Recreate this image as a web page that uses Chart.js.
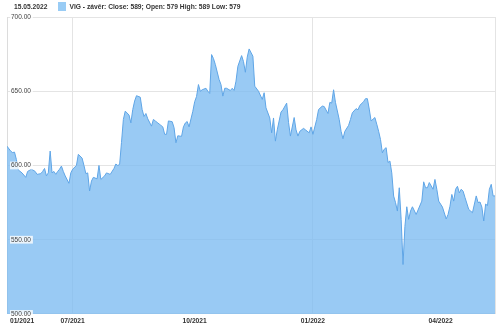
<!DOCTYPE html>
<html>
<head>
<meta charset="utf-8">
<script src="https://cdn.jsdelivr.net/npm/chart.js@4.4.1/dist/chart.umd.min.js"></script>
<style>
    html, body { margin: 0; padding: 0; background: #fff; }
    #wrap { position: relative; width: 500px; height: 329px; }
    #head {
        position: absolute; left: 14px; top: 2px;
        font: bold 6.7px "Liberation Sans", Arial, sans-serif; color: #333;
        display: flex; align-items: center; white-space: nowrap;
    }
    #head .box { width: 8px; height: 9px; background: #99ccf5; margin: 0 3px 0 11px; }
</style>
</head>
<body>
<div id="wrap">
    <canvas id="priceChart" width="500" height="329"></canvas>
    <div id="head"><span>15.05.2022</span><span class="box"></span><span>VIG - závěr: Close: 589; Open: 579 High: 589 Low: 579</span></div>
</div>
<script>
// trading day index since start of the window, and closing price
const days = [0, 2, 3, 4, 5, 6, 8, 10, 11, 13, 15, 16, 18, 19, 20, 21, 22, 23, 24, 25, 26, 27, 28, 29, 30, 31, 33, 34,
    35, 37, 38, 40, 41, 42, 43, 44, 45, 46, 48, 49, 50, 52, 53, 55, 57, 58, 59, 60, 61, 62, 63, 65, 66, 67, 68, 69,
    71, 72, 73, 74, 75, 77, 78, 79, 80, 82, 83, 84, 85, 86, 88, 89, 90, 91, 93, 94, 95, 96, 97, 99, 100, 101, 102,
    103, 104, 106, 107, 108, 109, 110, 111, 113, 114, 115, 116, 117, 119, 120, 121, 122, 123, 125, 126, 127, 128,
    129, 131, 132, 134, 136, 137, 138, 140, 141, 142, 143, 144, 146, 147, 149, 150, 151, 153, 154, 155, 156, 158,
    159, 161, 162, 163, 165, 166, 168, 169, 171, 172, 173, 174, 175, 177, 178, 179, 180, 182, 183, 184, 186, 187,
    188, 190, 191, 192, 193, 194, 196, 197, 198, 199, 200, 201, 202, 203, 204, 205, 206, 207, 208, 209, 210, 211,
    212, 213, 214, 215, 216, 218, 219, 221, 222, 223, 224, 225, 227, 228, 229, 230, 231, 232, 234, 235, 236, 237,
    238, 239, 240, 241, 242, 243, 244, 246, 247, 248, 250, 251, 252, 253, 254, 255, 256, 257, 258, 259, 260];
const closes = [613, 609.6, 608.7, 609, 604, 597, 595, 592, 596, 597.5, 596, 594, 594.5, 596, 598, 593, 595, 609.7, 595,
    596, 594, 596, 597.5, 599.6, 596, 593, 588, 595,
    597.5, 600, 607.5, 605, 600, 594.5, 595, 582.8, 589.5, 592, 591, 600, 590.6, 593, 595, 594, 598, 601, 600, 600.7,
    615.5, 631, 636.6, 634, 628.7, 637.7, 643.4, 647,
    646, 637.7, 633, 635, 631.4, 626.5, 631, 630, 629, 627, 626, 621, 621, 630, 629.5, 625.5, 615.3, 620, 619.6, 626,
    628.6, 629.6, 626, 636.5, 643, 646.5, 654.5,
    650, 651, 652, 650, 648.5, 674.7, 672, 668, 657.9, 654.5, 646.7, 652, 652, 650.5, 652, 650.5, 656.8, 666.8, 674,
    670, 662.8, 673,
    678.5, 673.6, 653.4, 650, 644.5, 649, 638.8, 632, 622, 632, 616.4, 624, 636, 637.5, 642, 629, 619.8, 632.3, 624,
    619.8, 623, 625,
    624, 622, 626, 621, 631, 637.7, 640, 639.7, 635, 642.5, 642, 651, 642.5, 631, 623, 618, 623, 627, 631, 635.5,
    638.3, 637.5,
    640.5, 643, 645, 645, 638, 630, 632.3, 627.8, 623, 617.5, 608.5, 611, 612, 602, 603, 595, 579.4, 575, 569.3, 585,
    563.7, 533.3, 559,
    572.2, 563.7, 569.3, 572.2, 567, 570, 576, 589, 585, 585, 588.5, 584, 590.6, 584, 576, 574, 572, 564, 567, 572.5,
    580.5, 576,
    584, 586, 581.5, 584, 582.7, 578.5, 570.4, 569.3, 568.2, 579.5, 575, 575.4, 572, 562.6, 574, 573, 584, 587.3,
    579.5, 579.5, 588.8];

const tickDays = [8, 35, 100, 163, 231, 260];
const tickLabels = ['01/2021', '07/2021', '10/2021', '01/2022', '04/2022', ''];
const gridDays = [35, 163, 260];

const points = days.map((d, i) => ({ x: d, y: closes[i] }));

const ctx = document.getElementById('priceChart').getContext('2d');
const priceChart = new Chart(ctx, {
    type: 'line',
    data: {
        datasets: [{
            label: 'VIG',
            data: points,
            borderColor: 'rgba(95, 165, 230, 1)',
            backgroundColor: 'rgba(120, 185, 240, 0.755)',
            borderWidth: 1,
            pointRadius: 0,
            fill: 'start',
            tension: 0
        }]
    },
    options: {
        responsive: false,
        animation: false,
        layout: { padding: { left: -1, right: 5, top: 17, bottom: 1 } },
        plugins: {
            legend: { display: false },
            tooltip: { enabled: false }
        },
        scales: {
            x: {
                type: 'linear',
                min: 0,
                max: 260,
                afterBuildTicks: function(axis) {
                    axis.ticks = tickDays.map(v => ({ value: v }));
                },
                ticks: {
                    autoSkip: false,
                    maxRotation: 0,
                    padding: 3,
                    color: '#333',
                    font: { family: 'Liberation Sans', size: 6.7, weight: 'bold' },
                    callback: function(value) {
                        const i = tickDays.indexOf(value);
                        return i >= 0 ? tickLabels[i] : '';
                    }
                },
                grid: {
                    drawTicks: false,
                    color: function(c) {
                        return c.tick && gridDays.includes(c.tick.value) ? '#e4e4e4' : 'rgba(0,0,0,0)';
                    }
                },
                border: { display: false }
            },
            y: {
                min: 500,
                max: 700,
                ticks: {
                    z: 1,
                    stepSize: 50,
                    mirror: true,
                    padding: 4,
                    color: '#444',
                    font: { family: 'Liberation Sans', size: 6.5 },
                    showLabelBackdrop: true,
                    backdropColor: 'rgba(255,255,255,0.8)',
                    backdropPadding: { top: 0, bottom: 0, left: 1, right: 2 },
                    callback: v => v.toFixed(2)
                },
                grid: { drawTicks: false, color: '#e4e4e4' },
                border: { display: true, color: '#dcdcdc' }
            }
        }
    }
});
</script>
</body>
</html>
